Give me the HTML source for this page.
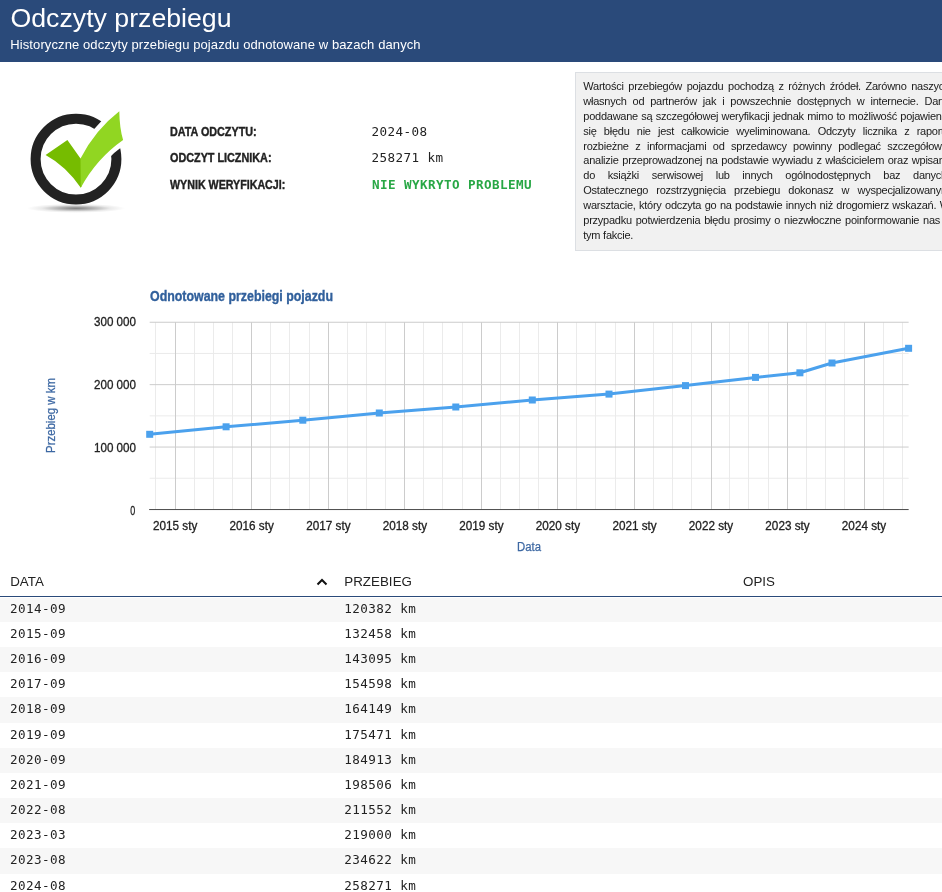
<!DOCTYPE html>
<html lang="pl">
<head>
<meta charset="utf-8">
<title>Odczyty przebiegu</title>
<style>
html,body{margin:0;padding:0;background:#fff;}
body{width:942px;height:892px;position:relative;overflow:hidden;font-family:"Liberation Sans",sans-serif;color:#222;}
#hdr{position:absolute;left:0;top:0;width:942px;height:62px;background:#2a4a7a;color:#fff;}
#hdr h1{position:absolute;left:10.5px;top:3px;margin:0;font-weight:normal;font-size:26.7px;line-height:30px;white-space:nowrap;}
#hdr p{position:absolute;left:10.3px;top:36.5px;margin:0;font-size:13px;line-height:16px;white-space:nowrap;letter-spacing:0.1px;}
#desc{position:absolute;left:575px;top:72px;width:420px;height:179px;background:#f1f1f1;border:1px solid #dcdfe3;box-sizing:border-box;}
#desc .ln{position:relative;left:7.3px;width:366.5px;height:14.96px;line-height:14.96px;font-size:11px;letter-spacing:-0.25px;color:#1a1a1a;text-align:justify;text-align-last:justify;white-space:nowrap;}
#desc .ln:first-child{margin-top:5.7px;}
#desc .ln.last{text-align-last:left;}
#ov{position:absolute;left:0;top:0;}
#ov text{font-family:"Liberation Sans",sans-serif;}
#ov .lbl{font-weight:bold;font-size:12.5px;fill:#222;stroke:#222;stroke-width:0.4px;}
#ov .val{font-family:"DejaVu Sans Mono","Liberation Mono",monospace;font-size:12.6px;letter-spacing:0.415px;fill:#222;}
#ov .ok{font-family:"DejaVu Sans Mono","Liberation Mono",monospace;font-size:12.6px;letter-spacing:0.415px;font-weight:bold;fill:#28a745;}
#ov .ax{font-size:12.5px;fill:#222;stroke:#222;stroke-width:0.3px;}
#ov .ttl{font-size:14px;font-weight:bold;fill:#31609c;stroke:#31609c;stroke-width:0.35px;}
#ov .axt{font-size:12.5px;fill:#3d68a3;stroke:#3d68a3;stroke-width:0.25px;}
#tbl{position:absolute;left:0;top:570px;width:942px;height:322px;}
#th{position:absolute;left:0;top:0;width:942px;height:26px;border-bottom:1px solid #2a4a7a;font-size:13.33px;letter-spacing:0.05px;color:#222;}
#th span{position:absolute;top:4.2px;line-height:16px;}
#rows{position:absolute;left:0;top:26.7px;width:942px;}
#gap{position:absolute;left:0;top:27px;width:942px;height:1px;background:#fff;}
.row{position:relative;height:25.18px;font-family:"DejaVu Sans Mono","Liberation Mono",monospace;font-size:12.6px;letter-spacing:0.415px;color:#222;}
.row:nth-child(odd){background:#f7f7f7;}
.row span{position:absolute;top:0;line-height:24.2px;white-space:nowrap;}
.c1{left:10px;}
.c2{left:344.2px;}
</style>
</head>
<body>
<div id="hdr"><h1>Odczyty przebiegu</h1><p>Historyczne odczyty przebiegu pojazdu odnotowane w bazach danych</p></div>
<div id="desc">
<div class="ln">Wartości przebiegów pojazdu pochodzą z różnych źródeł. Zarówno naszych</div>
<div class="ln">własnych od partnerów jak i powszechnie dostępnych w internecie. Dane</div>
<div class="ln">poddawane są szczegółowej weryfikacji jednak mimo to możliwość pojawienia</div>
<div class="ln">się błędu nie jest całkowicie wyeliminowana. Odczyty licznika z raportu</div>
<div class="ln">rozbieżne z informacjami od sprzedawcy powinny podlegać szczegółowej</div>
<div class="ln">analizie przeprowadzonej na podstawie wywiadu z właścicielem oraz wpisami</div>
<div class="ln">do książki serwisowej lub innych ogólnodostępnych baz danych.</div>
<div class="ln">Ostatecznego rozstrzygnięcia przebiegu dokonasz w wyspecjalizowanym</div>
<div class="ln">warsztacie, który odczyta go na podstawie innych niż drogomierz wskazań. W</div>
<div class="ln">przypadku potwierdzenia błędu prosimy o niezwłoczne poinformowanie nas o</div>
<div class="ln last">tym fakcie.</div>
</div>
<svg id="ov" width="942" height="892" viewBox="0 0 942 892">
<defs>
<radialGradient id="sh" cx="0.5" cy="0.5" r="0.5"><stop offset="0" stop-color="#000" stop-opacity="0.5"/><stop offset="0.35" stop-color="#000" stop-opacity="0.3"/><stop offset="0.7" stop-color="#000" stop-opacity="0.08"/><stop offset="1" stop-color="#000" stop-opacity="0"/></radialGradient>
</defs>
<g id="icon">
<ellipse cx="76" cy="208.3" rx="49" ry="4.6" fill="url(#sh)"/>
<circle cx="76" cy="159.1" r="40.4" fill="none" stroke="#222222" stroke-width="10"/>
<path d="M80.5,158.5 Q95,130 119.3,111.2 Q119.5,128 123.1,139.9 Q96.5,158.5 80.8,187.7 Z" fill="#fff" stroke="#fff" stroke-width="9.5" stroke-linejoin="round"/>
<path d="M45.6,154.9 L67.4,140.1 L80.5,158.5 L81.6,158.6 L81.6,186 L80.8,187.7 Q66,166 45.6,154.9 Z" fill="#76bc00"/>
<path d="M80.5,158.5 Q95,130 119.3,111.2 Q119.5,128 123.1,139.9 Q96.5,158.5 80.8,187.7 Z" fill="#91d622"/>
</g>
<g class="lbl">
<text x="170" y="136" textLength="86.6" lengthAdjust="spacingAndGlyphs">DATA ODCZYTU:</text>
<text x="170" y="162.1" textLength="101.5" lengthAdjust="spacingAndGlyphs">ODCZYT LICZNIKA:</text>
<text x="170" y="189.3" textLength="115.3" lengthAdjust="spacingAndGlyphs">WYNIK WERYFIKACJI:</text>
</g>
<text class="val" x="371.6" y="135.8">2024-08</text>
<text class="val" x="371.6" y="161.9">258271 km</text>
<text class="ok" x="372" y="188.7">NIE WYKRYTO PROBLEMU</text>
<text class="ttl" x="150" y="301" textLength="183" lengthAdjust="spacingAndGlyphs">Odnotowane przebiegi pojazdu</text>
<g id="grid">
<rect x="155" y="322.2" width="1" height="187.2" fill="#ebebeb"/>
<rect x="194" y="322.2" width="1" height="187.2" fill="#ebebeb"/>
<rect x="213" y="322.2" width="1" height="187.2" fill="#ebebeb"/>
<rect x="232" y="322.2" width="1" height="187.2" fill="#ebebeb"/>
<rect x="270" y="322.2" width="1" height="187.2" fill="#ebebeb"/>
<rect x="289" y="322.2" width="1" height="187.2" fill="#ebebeb"/>
<rect x="309" y="322.2" width="1" height="187.2" fill="#ebebeb"/>
<rect x="347" y="322.2" width="1" height="187.2" fill="#ebebeb"/>
<rect x="366" y="322.2" width="1" height="187.2" fill="#ebebeb"/>
<rect x="385" y="322.2" width="1" height="187.2" fill="#ebebeb"/>
<rect x="423" y="322.2" width="1" height="187.2" fill="#ebebeb"/>
<rect x="442" y="322.2" width="1" height="187.2" fill="#ebebeb"/>
<rect x="462" y="322.2" width="1" height="187.2" fill="#ebebeb"/>
<rect x="500" y="322.2" width="1" height="187.2" fill="#ebebeb"/>
<rect x="519" y="322.2" width="1" height="187.2" fill="#ebebeb"/>
<rect x="538" y="322.2" width="1" height="187.2" fill="#ebebeb"/>
<rect x="576" y="322.2" width="1" height="187.2" fill="#ebebeb"/>
<rect x="595" y="322.2" width="1" height="187.2" fill="#ebebeb"/>
<rect x="615" y="322.2" width="1" height="187.2" fill="#ebebeb"/>
<rect x="653" y="322.2" width="1" height="187.2" fill="#ebebeb"/>
<rect x="672" y="322.2" width="1" height="187.2" fill="#ebebeb"/>
<rect x="691" y="322.2" width="1" height="187.2" fill="#ebebeb"/>
<rect x="729" y="322.2" width="1" height="187.2" fill="#ebebeb"/>
<rect x="748" y="322.2" width="1" height="187.2" fill="#ebebeb"/>
<rect x="768" y="322.2" width="1" height="187.2" fill="#ebebeb"/>
<rect x="806" y="322.2" width="1" height="187.2" fill="#ebebeb"/>
<rect x="825" y="322.2" width="1" height="187.2" fill="#ebebeb"/>
<rect x="844" y="322.2" width="1" height="187.2" fill="#ebebeb"/>
<rect x="883" y="322.2" width="1" height="187.2" fill="#ebebeb"/>
<rect x="902" y="322.2" width="1" height="187.2" fill="#ebebeb"/>
<rect x="149.65" y="477.75" width="759" height="1" fill="#ebebeb"/>
<rect x="149.65" y="415.35" width="759" height="1" fill="#ebebeb"/>
<rect x="149.65" y="352.95" width="759" height="1" fill="#ebebeb"/>
<rect x="175" y="322.2" width="1" height="187.2" fill="#cccccc"/>
<rect x="251" y="322.2" width="1" height="187.2" fill="#cccccc"/>
<rect x="328" y="322.2" width="1" height="187.2" fill="#cccccc"/>
<rect x="404" y="322.2" width="1" height="187.2" fill="#cccccc"/>
<rect x="481" y="322.2" width="1" height="187.2" fill="#cccccc"/>
<rect x="557" y="322.2" width="1" height="187.2" fill="#cccccc"/>
<rect x="634" y="322.2" width="1" height="187.2" fill="#cccccc"/>
<rect x="711" y="322.2" width="1" height="187.2" fill="#cccccc"/>
<rect x="787" y="322.2" width="1" height="187.2" fill="#cccccc"/>
<rect x="864" y="322.2" width="1" height="187.2" fill="#cccccc"/>
<rect x="149.65" y="446.55" width="759" height="1" fill="#cccccc"/>
<rect x="149.65" y="384.15" width="759" height="1" fill="#cccccc"/>
<rect x="149.65" y="321.75" width="759" height="1" fill="#cccccc"/>
<rect x="149.15" y="509.05" width="759.5" height="1" fill="#4a4a4a"/>
</g>
<polyline fill="none" stroke="#4ba1ed" stroke-width="3" stroke-linejoin="round" points="149.7,434.3 226.1,426.8 302.8,420.2 379.3,413.0 455.8,407.0 532.3,400.0 609.0,394.1 685.5,385.6 755.5,377.4 799.9,372.8 832.0,363.0 908.6,348.3"/>
<g fill="#4ba1ed">
<rect x="146.2" y="430.8" width="7" height="7"/>
<rect x="222.6" y="423.3" width="7" height="7"/>
<rect x="299.3" y="416.7" width="7" height="7"/>
<rect x="375.8" y="409.5" width="7" height="7"/>
<rect x="452.3" y="403.5" width="7" height="7"/>
<rect x="528.8" y="396.5" width="7" height="7"/>
<rect x="605.5" y="390.6" width="7" height="7"/>
<rect x="682.0" y="382.1" width="7" height="7"/>
<rect x="752.0" y="373.9" width="7" height="7"/>
<rect x="796.4" y="369.3" width="7" height="7"/>
<rect x="828.5" y="359.5" width="7" height="7"/>
<rect x="905.1" y="344.8" width="7" height="7"/>
</g>
<g class="ax" text-anchor="middle">
<text x="175.2" y="529.6" textLength="44.3" lengthAdjust="spacingAndGlyphs">2015 sty</text>
<text x="251.7" y="529.6" textLength="44.3" lengthAdjust="spacingAndGlyphs">2016 sty</text>
<text x="328.4" y="529.6" textLength="44.3" lengthAdjust="spacingAndGlyphs">2017 sty</text>
<text x="404.9" y="529.6" textLength="44.3" lengthAdjust="spacingAndGlyphs">2018 sty</text>
<text x="481.4" y="529.6" textLength="44.3" lengthAdjust="spacingAndGlyphs">2019 sty</text>
<text x="557.9" y="529.6" textLength="44.3" lengthAdjust="spacingAndGlyphs">2020 sty</text>
<text x="634.6" y="529.6" textLength="44.3" lengthAdjust="spacingAndGlyphs">2021 sty</text>
<text x="711.0" y="529.6" textLength="44.3" lengthAdjust="spacingAndGlyphs">2022 sty</text>
<text x="787.5" y="529.6" textLength="44.3" lengthAdjust="spacingAndGlyphs">2023 sty</text>
<text x="864.0" y="529.6" textLength="44.3" lengthAdjust="spacingAndGlyphs">2024 sty</text>
</g>
<g class="ax" text-anchor="end">
<text x="136" y="326.1" textLength="42" lengthAdjust="spacingAndGlyphs">300 000</text>
<text x="136" y="388.8" textLength="42" lengthAdjust="spacingAndGlyphs">200 000</text>
<text x="136" y="451.5" textLength="42" lengthAdjust="spacingAndGlyphs">100 000</text>
<text x="135.3" y="514.6" textLength="5" lengthAdjust="spacingAndGlyphs">0</text>
</g>
<text class="axt" x="529" y="551" text-anchor="middle" textLength="24" lengthAdjust="spacingAndGlyphs">Data</text>
<text class="axt" transform="translate(54.8,415.5) rotate(-90)" text-anchor="middle" textLength="75" lengthAdjust="spacingAndGlyphs">Przebieg w km</text>
</svg>
<div id="tbl">
<div id="th"><span style="left:10.2px">DATA</span><span style="left:344.2px">PRZEBIEG</span><span style="left:743px">OPIS</span>
<svg style="position:absolute;left:316px;top:8px" width="12" height="8" viewBox="0 0 12 8"><path d="M1.5,6.5 L6,2 L10.5,6.5" fill="none" stroke="#111" stroke-width="2"/></svg>
</div>
<div id="rows">
<div class="row"><span class="c1">2014-09</span><span class="c2">120382 km</span></div>
<div class="row"><span class="c1">2015-09</span><span class="c2">132458 km</span></div>
<div class="row"><span class="c1">2016-09</span><span class="c2">143095 km</span></div>
<div class="row"><span class="c1">2017-09</span><span class="c2">154598 km</span></div>
<div class="row"><span class="c1">2018-09</span><span class="c2">164149 km</span></div>
<div class="row"><span class="c1">2019-09</span><span class="c2">175471 km</span></div>
<div class="row"><span class="c1">2020-09</span><span class="c2">184913 km</span></div>
<div class="row"><span class="c1">2021-09</span><span class="c2">198506 km</span></div>
<div class="row"><span class="c1">2022-08</span><span class="c2">211552 km</span></div>
<div class="row"><span class="c1">2023-03</span><span class="c2">219000 km</span></div>
<div class="row"><span class="c1">2023-08</span><span class="c2">234622 km</span></div>
<div class="row"><span class="c1">2024-08</span><span class="c2">258271 km</span></div>
</div>
<div id="gap"></div>
</div>
</body>
</html>
